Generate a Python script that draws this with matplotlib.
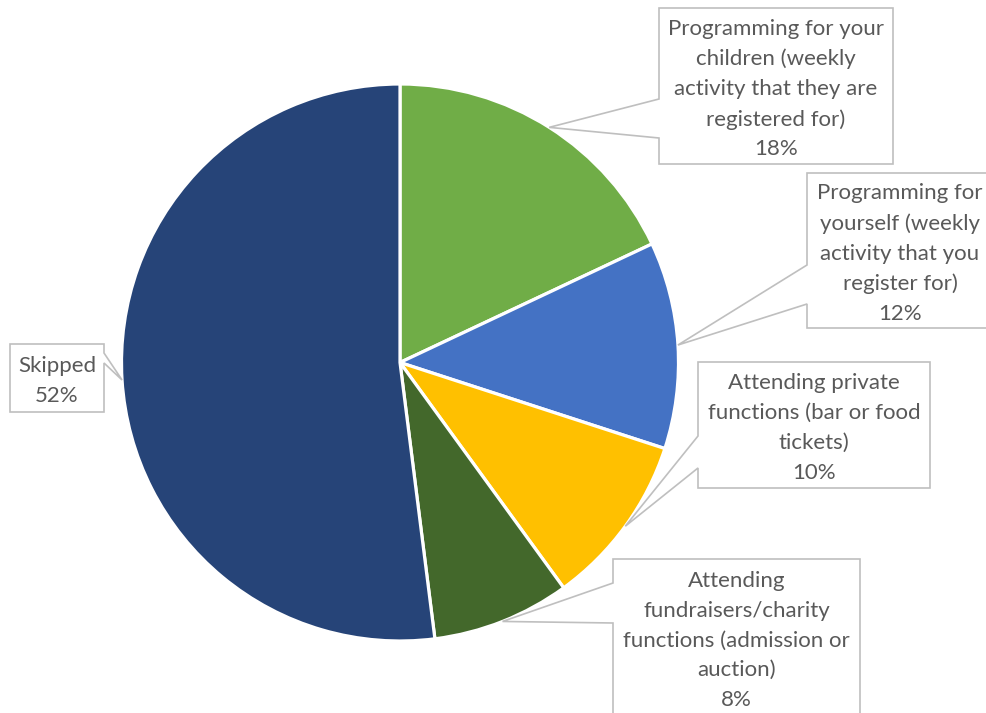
import matplotlib
matplotlib.use('Agg')
import numpy as np
import matplotlib.pyplot as plt
from matplotlib.patches import Polygon

# survey shares, clockwise from 12 o'clock
labels = [
    'Programming for your\nchildren (weekly\nactivity that they are\nregistered for)',
    'Programming for\nyourself (weekly\nactivity that you\nregister for)',
    'Attending private\nfunctions (bar or food\ntickets)',
    'Attending\nfundraisers/charity\nfunctions (admission or\nauction)',
    'Skipped',
]
shares = [18, 12, 10, 8, 52]
colors = ['#70AD47', '#4472C4', '#FFC000', '#43682B', '#264478']

# callout boxes in pixel space: (left, top, right, bottom), side of pointer, pointer base span
boxes = [
    ((659, 8, 893, 164), 'left', (99, 138)),
    ((807, 173, 993, 328), 'left', (265, 304)),
    ((698, 362, 930, 488), 'left', (436, 468)),
    ((613, 559, 860, 716), 'left', (583, 623)),
    ((10, 344, 104, 412), 'right', (353, 363)),
]

W, H = 987, 713
cx, cy, r = 400, 362.5, 278.5
plt.rcParams['font.family'] = ['Lato', 'DejaVu Sans']

fig = plt.figure(figsize=(W / 100, H / 100), dpi=100, facecolor='w')
ax = fig.add_axes([0, 0, 1, 1])

# y runs downward, so counterclockwise in data is clockwise on screen
wedges, _ = ax.pie(shares, colors=colors, startangle=-90, counterclock=True,
                   center=(cx, cy), radius=r, frame=True,
                   wedgeprops=dict(edgecolor='white', linewidth=2.3))
ax.set_xlim(0, W)
ax.set_ylim(H, 0)
ax.set_aspect('equal')
ax.axis('off')


def callout(box, side, span, tip, text):
    x0, y0, x1, y1 = box
    b0, b1 = span
    if side == 'left':
        pts = [(x0, y0), (x1, y0), (x1, y1), (x0, y1), (x0, b1), tip, (x0, b0)]
    else:
        pts = [(x0, y0), (x1, y0), (x1, b0), tip, (x1, b1), (x1, y1), (x0, y1)]
    ax.add_patch(Polygon(pts, closed=True, facecolor='white', edgecolor='#BFBFBF',
                         linewidth=1.2, zorder=3))
    ax.text((x0 + x1) / 2, (y0 + y1) / 2 + 3, text, ha='center', va='center',
            color='#595959', fontsize=16, linespacing=1.61, zorder=4)


for w, lab, val, (box, side, span) in zip(wedges, labels, shares, boxes):
    mid = np.deg2rad((w.theta1 + w.theta2) / 2)
    tip = (cx + r * np.cos(mid), cy + r * np.sin(mid))
    callout(box, side, span, tip, '%s\n%d%%' % (lab, val))

fig.savefig('out.png', dpi=100, facecolor='w')
